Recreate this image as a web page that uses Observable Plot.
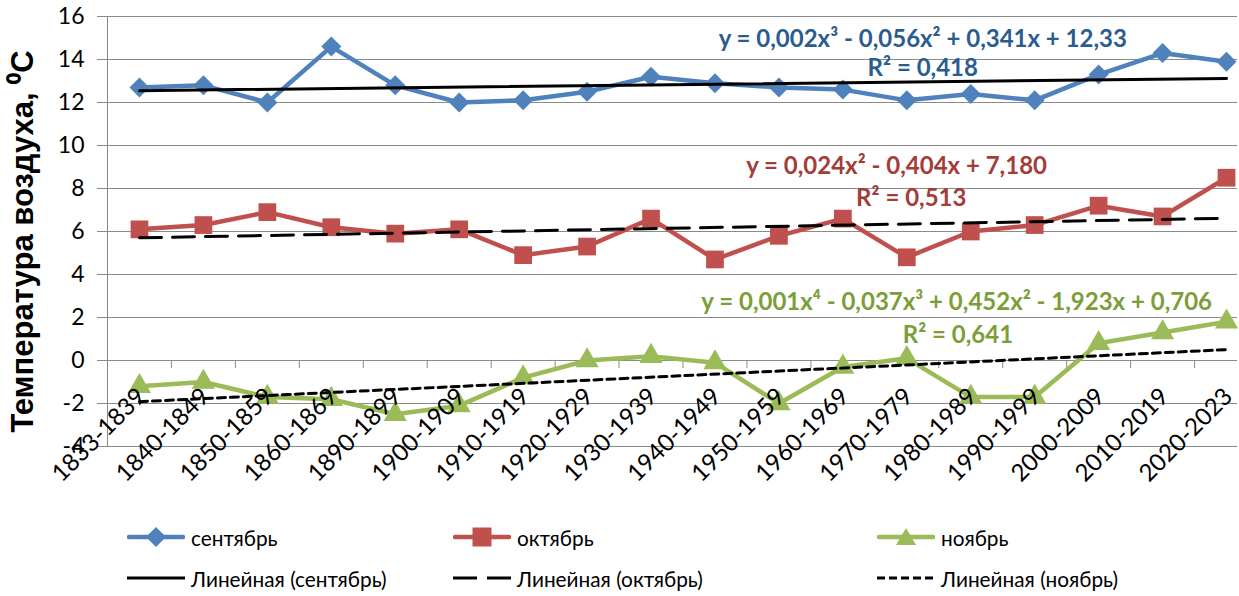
<!DOCTYPE html>
<html><head><meta charset="utf-8">
<script src="https://cdn.jsdelivr.net/npm/d3@7"></script>
<script src="https://cdn.jsdelivr.net/npm/@observablehq/plot@0.6"></script>
<style>
body{margin:0;background:#fff;font-family:Lato,"Noto Sans",sans-serif;}
#chart svg{display:block;overflow:visible}
#legend{position:relative;width:1239px;height:86px;}
.item{position:absolute;display:flex;align-items:center;font-size:20.8px;color:#000;height:30px;white-space:nowrap}
.item svg{margin-right:6px;display:block}
</style></head><body>
<div id="chart"></div>
<div id="legend"></div>
<script>
const categories = ["1833-1839","1840-1849","1850-1859","1860-1869","1890-1899","1900-1909","1910-1919","1920-1929","1930-1939","1940-1949","1950-1959","1960-1969","1970-1979","1980-1989","1990-1999","2000-2009","2010-2019","2020-2023"];
const september = [12.7,12.8,12.0,14.6,12.8,12.0,12.1,12.5,13.2,12.9,12.7,12.6,12.1,12.4,12.1,13.3,14.3,13.9];
const october   = [6.1,6.3,6.9,6.2,5.9,6.1,4.9,5.3,6.6,4.7,5.8,6.6,4.8,6.0,6.3,7.2,6.7,8.5];
const november  = [-1.2,-1.0,-1.7,-1.8,-2.5,-2.1,-0.8,0.0,0.2,-0.1,-2.0,-0.3,0.1,-1.7,-1.7,0.8,1.3,1.8];
const yTicks = [-4,-2,0,2,4,6,8,10,12,14,16];
const seriesNames = ["сентябрь","октябрь","ноябрь"];
const trendNames = ["Линейная (сентябрь)","Линейная (октябрь)","Линейная (ноябрь)"];
const yTitle = "Температура воздуха, ⁰С";
const eqSep = ["y = 0,002x³ - 0,056x² + 0,341x + 12,33", "R² = 0,418"];
const eqOct = ["y = 0,024x² - 0,404x + 7,180", "R² = 0,513"];
const eqNov = ["y = 0,001x⁴ - 0,037x³ + 0,452x² - 1,923x + 0,706", "R² = 0,641"];

const colors = ["#4F81BD","#C0504D","#9BBB59"];
const eqColors = ["#2B5C8F","#A33D3A","#7B9E38"];
const dashes = [null, "22,11", "8,5"];

const boundaries = d3.range(0, categories.length).map(i=>i+0.5);
const rows = (vals)=>vals.map((v,i)=>({x:i+1, y:v}));
const S = [september, october, november].map(rows);
const symbols = ["diamond2","square","triangle"];
const radii = [9, 10, 8.6];

const marks = [
  Plot.gridY(yTicks, {stroke:"#8a8a8a", strokeOpacity:1, strokeWidth:1}),
  Plot.axisY(yTicks, {tickSize:9, tickPadding:13, fontSize:23, stroke:"#8a8a8a", fill:"#000", tickFormat:d=>String(d), label:null}),
  Plot.ruleX([boundaries[0]], {stroke:"#8a8a8a", strokeWidth:1}),
  Plot.ruleX(boundaries.slice(1), {y1:0, y2:0, insetBottom:-8, stroke:"#8a8a8a", strokeWidth:1}),
  Plot.text([yTitle], {frameAnchor:"left", textAnchor:"middle", lineAnchor:"middle", rotate:-90, dx:-83, dy:10, fontSize:31, fontWeight:"bold", fontFamily:"Liberation Sans, Arial, sans-serif", fill:"#000"}),
];
S.forEach((data,k)=>{
  marks.push(Plot.line(data, {x:"x", y:"y", stroke:colors[k], strokeWidth:4.5}));
  marks.push(Plot.dot(data, {x:"x", y:"y", symbol:symbols[k], r:radii[k], fill:colors[k], stroke:"none"}));
});
S.forEach((data,k)=>{
  marks.push(Plot.linearRegressionY(data, {x:"x", y:"y", stroke:"#000", strokeWidth:3, strokeDasharray:dashes[k], ci:0}));
});
// trendline equation labels
const eqFont = {fontSize:24, fontWeight:"bold", textAnchor:"middle", lineAnchor:"middle"};
marks.push(Plot.text([eqSep[0]], {x:()=>13.25, y:()=>14.93, fill:eqColors[0], ...eqFont}));
marks.push(Plot.text([eqSep[1]], {x:()=>13.25, y:()=>13.6, fill:eqColors[0], ...eqFont}));
marks.push(Plot.text([eqOct[0]], {x:()=>12.84, y:()=>9.02, fill:eqColors[1], ...eqFont}));
marks.push(Plot.text([eqOct[1]], {x:()=>13.07, y:()=>7.53, fill:eqColors[1], ...eqFont}));
marks.push(Plot.text([eqNov[0]], {x:()=>13.78, y:()=>2.70, fill:eqColors[2], ...eqFont}));
marks.push(Plot.text([eqNov[1]], {x:()=>13.8, y:()=>1.16, fill:eqColors[2], ...eqFont}));
// category labels
marks.push(Plot.text(categories, {x:(d,i)=>i+1, frameAnchor:"bottom", rotate:-45, textAnchor:"end", lineAnchor:"middle", dx:2, dy:-54, fontSize:24, fill:"#000"}));

const chart = Plot.plot({
  width:1239, height:510,
  marginLeft:106, marginRight:2, marginTop:16, marginBottom:64,
  style:{fontFamily:"Lato, 'Noto Sans', sans-serif", background:"#fff"},
  x:{domain:[0.5,18.5], range:[107,1258], axis:null},
  y:{domain:[-4,16], axis:null},
  marks
});
document.getElementById("chart").appendChild(chart);

// legend
const legend = document.getElementById("legend");
const colLeft = [127, 453, 877];
const rowTop = [12, 53];
function sym(k){
  if(k===0) return `<path d="M29,2 L39,12 L29,22 L19,12 Z" fill="${colors[0]}"/>`;
  if(k===1) return `<rect x="19.5" y="2.5" width="19" height="19" fill="${colors[1]}"/>`;
  return `<path d="M29,3 L39,20 L19,20 Z" fill="${colors[2]}"/>`;
}
seriesNames.forEach((name,k)=>{
  const el=document.createElement("div"); el.className="item";
  el.style.left=colLeft[k]+"px"; el.style.top=rowTop[0]+"px";
  el.innerHTML=`<svg width="58" height="24"><line x1="2" y1="12" x2="56" y2="12" stroke="${colors[k]}" stroke-width="4.5" stroke-linecap="round"/>${sym(k)}</svg><span>${name}</span>`;
  legend.appendChild(el);
});
trendNames.forEach((name,k)=>{
  const el=document.createElement("div"); el.className="item";
  el.style.left=colLeft[k]+"px"; el.style.top=rowTop[1]+"px";
  const da = k===1 ? 'stroke-dasharray="24,10"' : k===2 ? 'stroke-dasharray="8,4"' : '';
  el.innerHTML=`<svg width="58" height="24"><line x1="0" y1="12" x2="58" y2="12" stroke="#000" stroke-width="3" ${da}/></svg><span>${name}</span>`;
  legend.appendChild(el);
});
</script>
</body></html>
